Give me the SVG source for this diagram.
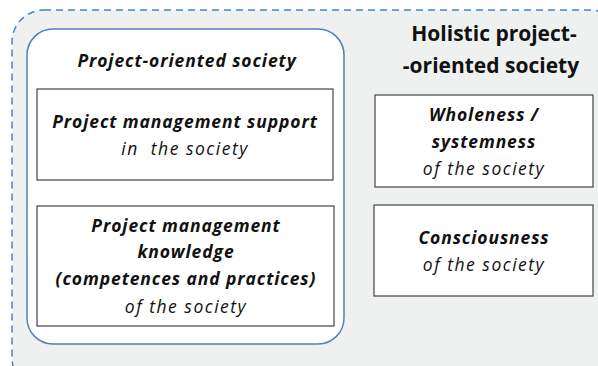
<svg xmlns="http://www.w3.org/2000/svg" width="598" height="366" viewBox="0 0 598 366">
<style>
text{font-family:"Open Sans","Liberation Sans",sans-serif;fill:#111;text-anchor:middle}
.b{font-weight:bold;font-style:italic;font-size:17.5px;letter-spacing:0.9px}
.i{font-style:italic;font-size:17.5px;letter-spacing:1.5px}
.h{font-weight:bold;font-size:21px}
.box{fill:#fff;stroke:#444;stroke-width:1.2}
</style>
<rect x="12" y="10" width="610" height="380" rx="32" fill="#eff1f1" stroke="#4f81bd" stroke-width="1.5" stroke-dasharray="7,5"/>
<g id="holistic-title">
<text class="h" x="494" y="41">Holistic project-</text>
<text class="h" x="491" y="73">-oriented society</text>
</g>
<g id="project-oriented-society">
<rect x="27" y="29" width="317" height="315" rx="26" fill="#fff" stroke="#4f81bd" stroke-width="1.5"/>
<text class="b" x="187" y="67">Project-oriented society</text>
</g>
<g id="pm-support">
<rect class="box" x="37" y="89" width="296" height="91"/>
<text class="b" x="185" y="128">Project management support</text>
<text class="i" x="185" y="155" xml:space="preserve">in  the society</text>
</g>
<g id="pm-knowledge">
<rect class="box" x="37" y="206" width="297" height="120"/>
<text class="b" x="186" y="232">Project management</text>
<text class="b" x="186" y="258">knowledge</text>
<text class="b" x="186" y="285">(competences and practices)</text>
<text class="i" x="186" y="313">of the society</text>
</g>
<g id="wholeness">
<rect class="box" x="375" y="95" width="218" height="92"/>
<text class="b" x="484" y="121">Wholeness /</text>
<text class="b" x="484" y="148">systemness</text>
<text class="i" x="484" y="175">of the society</text>
</g>
<g id="consciousness">
<rect class="box" x="374" y="205" width="219" height="91"/>
<text class="b" x="484" y="244">Consciousness</text>
<text class="i" x="484" y="271">of the society</text>
</g>
<g id="connectors"/>
</svg>
